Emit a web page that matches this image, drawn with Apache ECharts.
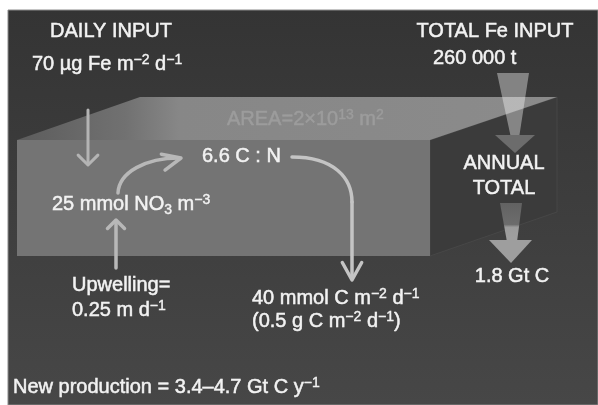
<!DOCTYPE html>
<html><head><meta charset="utf-8">
<script src="https://cdn.jsdelivr.net/npm/echarts@6/dist/echarts.min.js"></script>
<style>html,body{margin:0;padding:0;background:#fff}#c{width:598px;height:405px}</style>
</head><body><div id="c"></div>
<script>
// ---------- values ----------
const headings = ['DAILY INPUT', 'TOTAL Fe INPUT', 'ANNUAL', 'TOTAL'];
const ironInput = [70, 260000];     // µg Fe m-2 d-1 ; tonnes
const areaSci = [2, 13];            // 2 x 10^13 m2
const cnRatio = [6.6];
const nitrate = [25];               // mmol NO3 m-3
const upwelling = [0.25];           // m d-1
const exportFlux = [40, 0.5];       // mmol C m-2 d-1 ; g C m-2 d-1
const annualCarbon = [1.8];         // Gt C
const newProduction = [3.4, 4.7];   // Gt C y-1

function thousands(n) { return String(n).replace(/\B(?=(\d{3})+(?!\d))/g, ' '); }

const labelTexts = [
  headings[0],
  `${ironInput[0]} µg Fe m{s|−2} d{s|−1}`,
  headings[1],
  `${thousands(ironInput[1])} t`,
  `AREA=${areaSci[0]}×10{s|${areaSci[1]}} m{s|2}`,
  `${cnRatio[0]} C : N`,
  `${nitrate[0]} mmol NO{u|3} m{s|−3}`,
  'Upwelling=',
  `${upwelling[0]} m d{s|−1}`,
  `${exportFlux[0]} mmol C m{s|−2} d{s|−1}`,
  `(${exportFlux[1]} g C m{s|−2} d{s|−1})`,
  headings[2],
  headings[3],
  `${annualCarbon[0]} Gt C`,
  `New production = ${newProduction[0]}–${newProduction[1]} Gt C y{s|−1}`
];

// ---------- diagram layout (diagram units = pixels of the 598x405 frame) ----------
const labelAnchors = [[111,31],[32,64],[495,31],[433,58],[227,119],[202,156],[52,204],[72,285],[72,310],[252,298],[252,321],[504,163],[504,188],[512,276],[13,387]];
const labelAlign = ['center','left','center','left','left','left','left','left','left','left','left','center','center','center','left'];
const labelColor = labelTexts.map((t, i) => i === 4 ? '#9c9c9c' : '#f2f2f2');

const FONT = '"Liberation Sans", Arial, Helvetica, sans-serif';
const G = echarts.graphic;

const shapes = [
  { pts: [[8,10],[598,10],[598,405],[8,405]],
    fill: new G.LinearGradient(0,0,0,1,[{offset:0,color:'#343434'},{offset:1,color:'#474747'}]), stroke:'#8a8a8a' },
  { pts: [[430,140],[557,97],[557,212],[430,256]], fill: '#3b3b3b', stroke:'#474747' },
  { pts: [[17,140],[430,140],[430,256],[17,256]], fill: '#747474' },
  { pts: [[17,140],[140,97],[557,97],[430,140]],
    fill: new G.LinearGradient(0,0,1,0,[{offset:0,color:'#5c5c5c'},{offset:0.2,color:'#717171'},{offset:0.3,color:'#878787'},{offset:1,color:'#8b8b8b'}]) },
  { pts: [[497,73],[529,73],[519,138],[511,138]], fill: 'rgba(255,255,255,0.38)' },
  { pts: [[495,135],[535,135],[515,153]], fill: '#6c6c6c' },
  { pts: [[500,203],[522,203],[517,242],[507,242]],
    fill: new G.LinearGradient(0,0,0,1,[{offset:0,color:'#626262'},{offset:0.55,color:'#6c6c6c'},{offset:0.62,color:'#9c9c9c'},{offset:1,color:'#a0a0a0'}]) },
  { pts: [[489,240],[532,240],[511,263]], fill: '#9e9e9e' }
];

const arrows = [
  { segs: [{ line: [[88,110],[88,164]] }], tip: [88,165], dir: 90, len: 14, ang: 45, w: 3, color: '#b4b4b4' },
  { segs: [{ curve: [[118,193],[119,172],[146,158],[179,158]] }], tip: [181,158], dir: -13, len: 20, ang: 24, w: 3.5, color: '#b8b8b8' },
  { segs: [{ line: [[116,268],[116,222]] }], tip: [116,220], dir: -90, len: 12, ang: 45, w: 3.5, color: '#b8b8b8' },
  { segs: [{ curve: [[292,157],[334,157],[352,178],[352,202]] }, { line: [[352,202],[352,278]] }], tip: [352,280], dir: 90, len: 20, ang: 29, w: 3.5, color: '#c4c4c4' }
];

const chart = echarts.init(document.getElementById('c'));
chart.setOption({
  animation: false,
  backgroundColor: '#ffffff',
  grid: { left: 0, right: 0, top: 0, bottom: 0 },
  xAxis: { type: 'value', min: 0, max: 598, show: false },
  yAxis: { type: 'value', min: 0, max: 405, inverse: true, show: false },
  series: [
    {
      type: 'custom', coordinateSystem: 'cartesian2d', silent: true, z: 1,
      data: shapes.map(() => [0, 0]),
      renderItem: (params, api) => {
        const s = shapes[params.dataIndex];
        return { type: 'polygon', shape: { points: s.pts.map(p => api.coord(p)) },
          style: { fill: s.fill, stroke: s.stroke || 'none', lineWidth: 1 } };
      }
    },
    {
      type: 'custom', coordinateSystem: 'cartesian2d', silent: true, z: 2,
      data: arrows.map(() => [0, 0]),
      renderItem: (params, api) => {
        const a = arrows[params.dataIndex];
        const style = { stroke: a.color, lineWidth: a.w, fill: 'none', lineCap: 'round', lineJoin: 'round' };
        const children = a.segs.map(sg => {
          if (sg.line) return { type: 'polyline', shape: { points: sg.line.map(p => api.coord(p)) }, style };
          const c = sg.curve.map(p => api.coord(p));
          return { type: 'bezierCurve', shape: { x1: c[0][0], y1: c[0][1], cpx1: c[1][0], cpy1: c[1][1], cpx2: c[2][0], cpy2: c[2][1], x2: c[3][0], y2: c[3][1] }, style };
        });
        const t = api.coord(a.tip);
        const d = a.dir * Math.PI / 180, h = a.ang * Math.PI / 180;
        const w1 = [t[0] - a.len * Math.cos(d - h), t[1] - a.len * Math.sin(d - h)];
        const w2 = [t[0] - a.len * Math.cos(d + h), t[1] - a.len * Math.sin(d + h)];
        children.push({ type: 'polyline', shape: { points: [w1, t, w2] }, style });
        return { type: 'group', children };
      }
    },
    {
      type: 'custom', coordinateSystem: 'cartesian2d', silent: true, z: 3,
      data: labelTexts.map(() => [0, 0]),
      renderItem: (params, api) => {
        const i = params.dataIndex;
        const p = api.coord(labelAnchors[i]);
        const col = labelColor[i];
        return {
          type: 'text', x: p[0], y: p[1],
          style: {
            text: labelTexts[i],
            font: '20px ' + FONT, fill: col, stroke: col, lineWidth: 0.5,
            align: labelAlign[i], verticalAlign: 'middle', lineHeight: 24,
            rich: {
              s: { font: '14px ' + FONT, fill: col, stroke: col, lineWidth: 0.4, verticalAlign: 'top', height: 17 },
              u: { font: '14px ' + FONT, fill: col, stroke: col, lineWidth: 0.4, verticalAlign: 'bottom', height: 11 }
            }
          }
        };
      }
    }
  ]
});
</script></body></html>
